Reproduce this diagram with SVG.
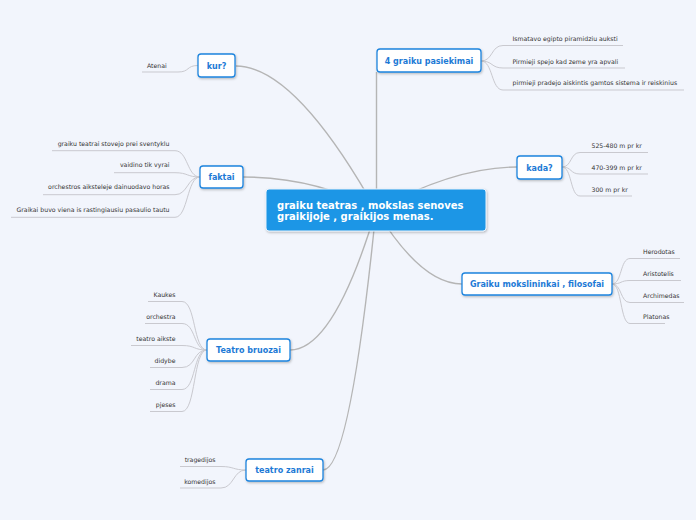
<svg xmlns="http://www.w3.org/2000/svg" width="696" height="520" viewBox="0 0 696 520">
<style>
.bg{fill:#f2f5fc}
.main{fill:none;stroke:#b5b5b5;stroke-width:1.4}
.leafc{fill:none;stroke:#c9c9cf;stroke-width:1}
.node rect{fill:#ffffff;stroke:#1e84de;stroke-width:1.3}
.nt{font-family:"DejaVu Sans",Verdana,sans-serif;font-weight:bold;font-size:8px;fill:#1d7ad6;text-anchor:middle}
.ct{font-family:"DejaVu Sans",Verdana,sans-serif;font-weight:bold;font-size:10px;fill:#ffffff}
.lt{font-family:"DejaVu Sans",Verdana,sans-serif;font-size:6.2px;fill:#333333}
.r{text-anchor:end}
</style>
<defs>
<filter id="sh" x="-20%" y="-30%" width="140%" height="170%">
<feDropShadow dx="0.8" dy="1.2" stdDeviation="0.8" flood-color="#000" flood-opacity="0.25"/>
</filter>
</defs>
<rect class="bg" x="0" y="0" width="696" height="520"/>

<g id="connectors">
<path class="main" d="M376,210 Q295,66 236,66"/>
<path class="main" d="M376.5,210 V72"/>
<path class="main" d="M376,210 Q455,167 517,167"/>
<path class="main" d="M376,210 Q316,177 243,177"/>
<path class="main" d="M376,210 Q421,284 462,284"/>
<path class="main" d="M376,210 Q334,350 290,350"/>
<path class="main" d="M376,210 Q350,470 323,470"/>

<!-- kur leaf -->
<path class="leafc" d="M198,65.5 C186,65.5 190,72 178,72 H142"/>
<!-- 4 graiku leaves -->
<path class="leafc" d="M481,61 C493,61 491,45.5 503,45.5 H623"/>
<path class="leafc" d="M481,61 C493,61 491,68 503,68 H625"/>
<path class="leafc" d="M481,61 C493,61 491,90 503,90 H684"/>
<!-- kada leaves -->
<path class="leafc" d="M562,167 C572,167 570,152.5 580,152.5 H648"/>
<path class="leafc" d="M562,167 C572,167 570,174 580,174 H648"/>
<path class="leafc" d="M562,167 C572,167 570,196 580,196 H632"/>
<!-- faktai leaves -->
<path class="leafc" d="M200,177 C187,177 188,150.7 175,150.7 H52"/>
<path class="leafc" d="M200,177 C187,177 188,172.7 175,172.7 H114"/>
<path class="leafc" d="M200,177 C187,177 188,194.7 175,194.7 H43"/>
<path class="leafc" d="M200,177 C187,177 188,217.3 175,217.3 H11"/>
<!-- mokslininkai leaves -->
<path class="leafc" d="M612,284 C622,284 620,258.5 630,258.5 H680"/>
<path class="leafc" d="M612,284 C622,284 620,280.5 630,280.5 H681"/>
<path class="leafc" d="M612,284 C622,284 620,302.5 630,302.5 H684"/>
<path class="leafc" d="M612,284 C622,284 620,323.5 630,323.5 H665"/>
<!-- Teatro bruozai leaves -->
<path class="leafc" d="M207,350 C193,350 196,301.5 182,301.5 H148"/>
<path class="leafc" d="M207,350 C193,350 196,323.5 182,323.5 H145"/>
<path class="leafc" d="M207,350 C193,350 196,345.5 182,345.5 H131"/>
<path class="leafc" d="M207,350 C193,350 196,367.5 182,367.5 H150"/>
<path class="leafc" d="M207,350 C193,350 196,389.5 182,389.5 H150"/>
<path class="leafc" d="M207,350 C193,350 196,411.5 182,411.5 H150"/>
<!-- teatro zanrai leaves -->
<path class="leafc" d="M246,470 C233,470 234,466.5 221,466.5 H180"/>
<path class="leafc" d="M246,470 C233,470 234,488 221,488 H180"/>
</g>

<g id="central">
<rect x="266" y="189" width="220" height="42" rx="3" fill="#1b96e6" stroke="#e8f2fc" stroke-width="1" filter="url(#sh)"/>
<text class="ct" x="277" y="208.5">graiku teatras , mokslas senoves</text>
<text class="ct" x="277" y="219.8">graikijoje , graikijos menas.</text>
</g>

<g id="kur" class="node">
<rect x="198" y="54" width="37" height="23" rx="3" filter="url(#sh)"/>
<text class="nt" x="216.5" y="68.5">kur?</text>
<text class="lt" x="147" y="68">Atenai</text>
</g>

<g id="pasiekimai" class="node">
<rect x="377" y="49" width="104" height="23" rx="3" filter="url(#sh)"/>
<text class="nt" x="429" y="63.8">4 graiku pasiekimai</text>
<text class="lt" x="512.5" y="41">Ismatavo egipto piramidziu auksti</text>
<text class="lt" x="512.5" y="63.5">Pirmieji spejo kad zeme yra apvali</text>
<text class="lt" x="512.5" y="85.2">pirmieji pradejo aiskintis gamtos sistema ir reiskinius</text>
</g>

<g id="kada" class="node">
<rect x="517" y="156" width="45" height="23" rx="3" filter="url(#sh)"/>
<text class="nt" x="539.5" y="170.5">kada?</text>
<text class="lt" x="591.5" y="147.8">525-480 m pr kr</text>
<text class="lt" x="591.5" y="169.6">470-399 m pr kr</text>
<text class="lt" x="591.5" y="191.8">300 m pr kr</text>
</g>

<g id="faktai" class="node">
<rect x="200" y="166" width="43" height="22" rx="3" filter="url(#sh)"/>
<text class="nt" x="221.5" y="180">faktai</text>
<text class="lt r" x="169.5" y="145.7">graiku teatrai stovejo prei sventyklu</text>
<text class="lt r" x="169.5" y="167.3">vaidino tik vyrai</text>
<text class="lt r" x="169.5" y="189.3">orchestros aiksteleje dainuodavo horas</text>
<text class="lt r" x="169.5" y="211.7">Graikai buvo viena is rastingiausiu pasaulio tautu</text>
</g>

<g id="mokslininkai" class="node">
<rect x="462" y="273" width="150" height="22" rx="3" filter="url(#sh)"/>
<text class="nt" x="537" y="287">Graiku mokslininkai , filosofai</text>
<text class="lt" x="643" y="253.7">Herodotas</text>
<text class="lt" x="643" y="275.7">Aristotelis</text>
<text class="lt" x="643" y="297.7">Archimedas</text>
<text class="lt" x="643" y="319.2">Platonas</text>
</g>

<g id="bruozai" class="node">
<rect x="207" y="339" width="83" height="22" rx="3" filter="url(#sh)"/>
<text class="nt" x="248.5" y="353">Teatro bruozai</text>
<text class="lt r" x="175.5" y="297">Kaukes</text>
<text class="lt r" x="175.5" y="318.8">orchestra</text>
<text class="lt r" x="175.5" y="340.5">teatro aikste</text>
<text class="lt r" x="175.5" y="362.6">didybe</text>
<text class="lt r" x="175.5" y="384.5">drama</text>
<text class="lt r" x="175.5" y="406.6">pjeses</text>
</g>

<g id="zanrai" class="node">
<rect x="246" y="459" width="77" height="22" rx="3" filter="url(#sh)"/>
<text class="nt" x="284.5" y="473">teatro zanrai</text>
<text class="lt r" x="215.5" y="462">tragedijos</text>
<text class="lt r" x="215.5" y="483.6">komedijos</text>
</g>
</svg>
